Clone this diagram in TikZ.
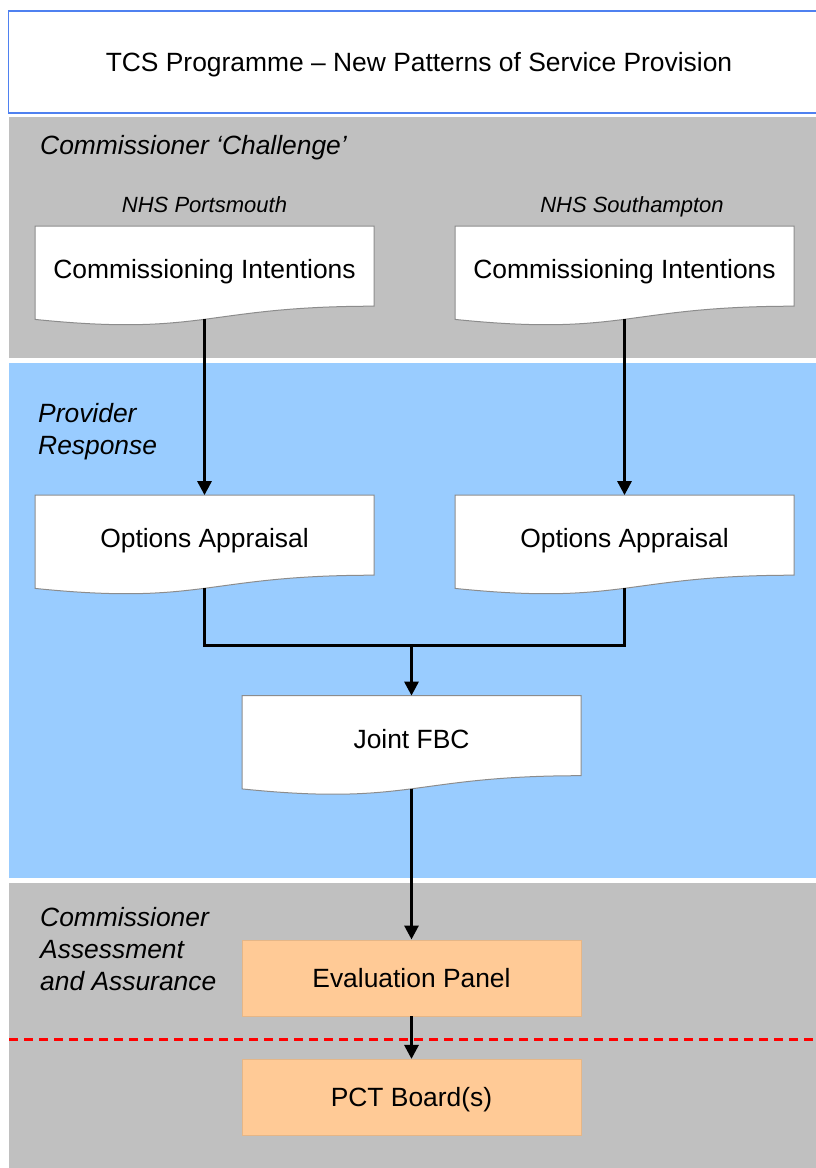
\documentclass[tikz,border=0pt]{standalone}
\usepackage{fontspec}
\setmainfont{Liberation Sans}
\usetikzlibrary{arrows.meta}
\definecolor{bandgray}{HTML}{C0C0C0}
\definecolor{bandblue}{HTML}{99CCFF}
\definecolor{peach}{HTML}{FFCA96}
\definecolor{titleblue}{HTML}{4F81F0}
\definecolor{docedge}{HTML}{8C8C8C}
\tikzset{
  bigfont/.style={font=\fontsize{26.4}{32}\selectfont},
  capbox/.style={text height=18.9pt, text depth=0pt},
  doc/.style={draw=docedge, line width=1pt, fill=white},
  doctext/.style={inner sep=0pt, bigfont, capbox},
  panel/.style={fill=peach, draw=peach!90!black, line width=0.6pt, minimum width=339pt, minimum height=76pt, inner sep=0pt, bigfont, capbox},
  heading/.style={inner sep=0pt, anchor=west, align=left, font=\fontsize{26.4}{32}\selectfont\itshape},
  sublabel/.style={inner sep=0pt, anchor=base, font=\fontsize{22}{26}\selectfont\itshape},
  conn/.style={line width=3pt, -{Triangle[length=14pt,width=14pt]}},
  link/.style={line width=3pt, line join=miter},
}
\newcommand{\docbox}[5]{% name, xleft, ytop, width, text
  \draw[doc] (#2,#3) -- (#2+#4,#3) -- (#2+#4,#3+80.2)
    .. controls (#2+#4/2,#3+80.2) and (#2+#4/2,#3+110.75) .. (#2,#3+93.4) -- cycle;
  \node[doctext, minimum width=#4pt, minimum height=86pt] (#1) at (#2+#4/2,#3+43.3) {#5};
  \coordinate (#1-b) at (#2+#4/2,#3+93.3);
}
\begin{document}
\begin{tikzpicture}[x=1pt,y=-1pt]
\useasboundingbox (0,0) rectangle (816,1168);
% bands
\fill[bandgray] (9,117) rectangle (820,357.5);
\fill[bandblue] (9,363) rectangle (820,878);
\fill[bandgray] (9,883) rectangle (820,1170);
% title
\node[draw=titleblue, line width=1.8pt, fill=white, minimum width=821pt, minimum height=102pt, inner sep=0pt, bigfont, capbox] (title) at (419,62.2) {TCS Programme -- New Patterns of Service Provision};
% section labels
\node[heading, capbox] (hchal) at (40,145) {Commissioner ‘Challenge’};
\node[heading] (hprov) at (38,432) {Provider\\Response};
\node[heading] (hass) at (40,949) {Commissioner\\Assessment\\and Assurance};
\node[sublabel] (nhsp) at (204.5,212.7) {NHS Portsmouth};
\node[sublabel] (nhss) at (632,212.7) {NHS Southampton};
% documents
\docbox{ciL}{35}{226}{339}{Commissioning Intentions}
\docbox{ciR}{455}{226}{339}{Commissioning Intentions}
\docbox{oaL}{35}{495}{339}{Options Appraisal}
\docbox{oaR}{455}{495}{339}{Options Appraisal}
\docbox{jfbc}{242}{695.5}{339}{Joint FBC}
% panels
\node[panel] (eval) at (411.5,977.8) {Evaluation Panel};
\node[panel] (pct) at (411.5,1097.2) {PCT Board(s)};
% red dashed line
\coordinate (dashL) at (9,1039);
\coordinate (dashR) at (820,1039);
\draw[red, line width=3pt, dash pattern=on 9pt off 6pt] (dashL) -- (dashR);
% connectors
\draw[conn] (ciL-b) -- (oaL.north);
\draw[conn] (ciR-b) -- (oaR.north);
\coordinate (join) at (411.5,645);
\draw[link] (oaL-b) |- (join) -| (oaR-b);
\draw[conn] (join) -- (jfbc.north);
\draw[conn] (jfbc-b) -- (eval.north);
\draw[conn] (eval.south) -- (pct.north);
\end{tikzpicture}
\end{document}
